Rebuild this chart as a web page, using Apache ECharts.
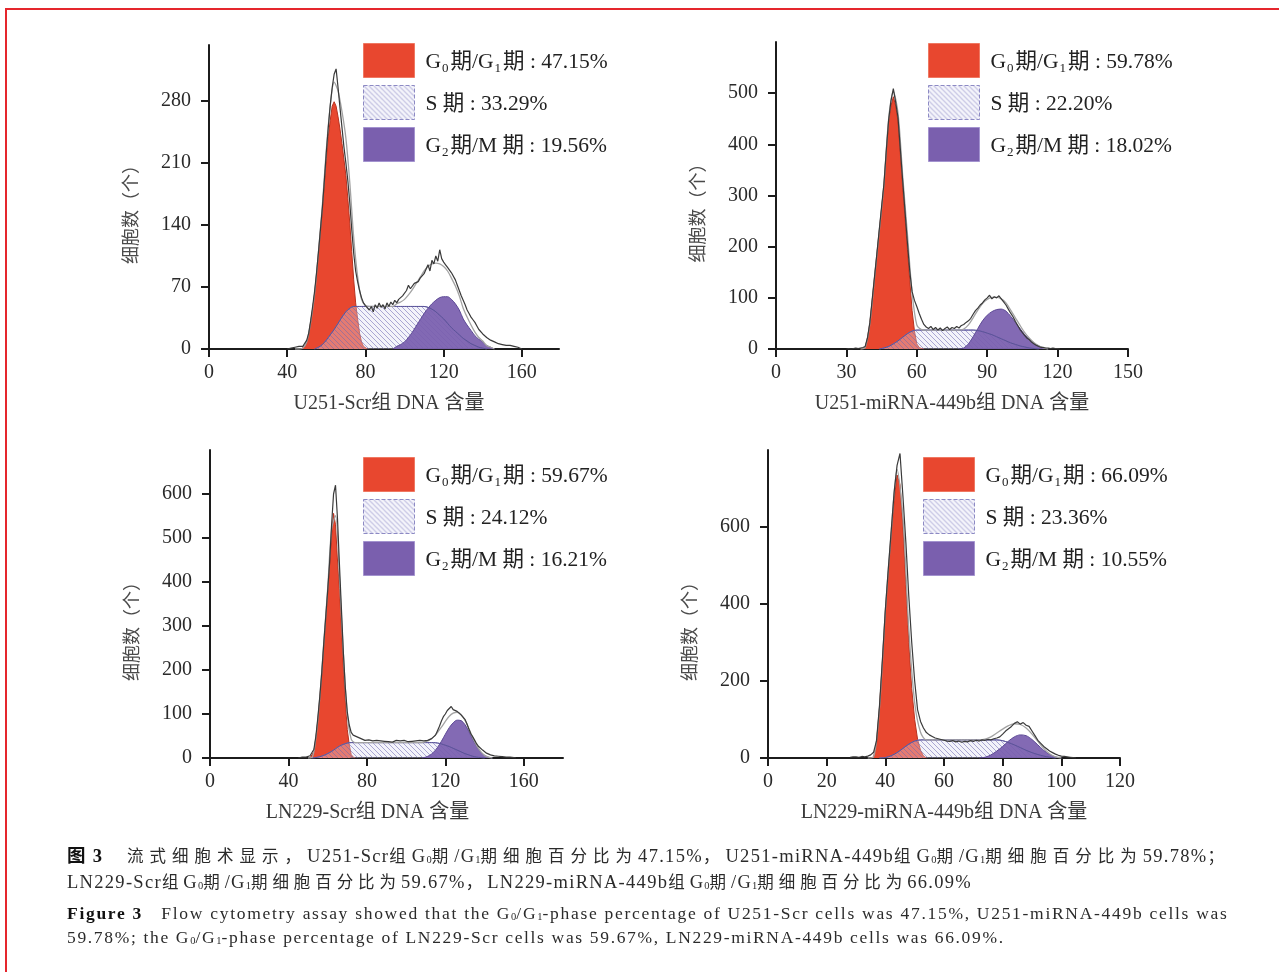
<!DOCTYPE html>
<html lang="zh">
<head>
<meta charset="utf-8">
<title>流式细胞术</title>
<script src="https://cdn.jsdelivr.net/npm/echarts@6.0.0/dist/echarts.min.js"></script>
<style>
html,body{margin:0;padding:0;background:#fff;width:1279px;height:972px;overflow:hidden;}
#chart{position:absolute;left:0;top:0;width:1279px;height:972px;}
#frame{position:absolute;left:5px;top:8px;width:1290px;height:980px;border-left:2px solid #e5262d;border-top:2px solid #e5262d;pointer-events:none;}
.cap{position:absolute;left:67px;white-space:nowrap;font-family:"Liberation Serif","Noto Sans CJK SC",serif;color:#2b2b2b;line-height:20px;font-size:17.5px;}
.cap.cn{letter-spacing:1.3px;font-size:18.5px;}
.cap .hz{font-size:16.5px;}
.cap sub{font-size:10.5px;vertical-align:-1px;line-height:0;letter-spacing:0;}
.cap b{color:#111;}
</style>
</head>
<body>
<div id="chart"></div>
<div id="frame"></div>
<div class="cap cn" data-w="1163" style="top:846px"><b><span class="hz0">图</span> 3</b>&nbsp;&nbsp;&nbsp;&nbsp;<span class="hz">流式细胞术显示，</span>U251-Scr<span class="hz">组</span>G<sub>0</sub><span class="hz">期</span>/G<sub>1</sub><span class="hz">期细胞百分比为</span>47.15%<span class="hz">，</span>U251-miRNA-449b<span class="hz">组</span>G<sub>0</sub><span class="hz">期</span>/G<sub>1</sub><span class="hz">期细胞百分比为</span>59.78%<span class="hz">；</span></div>
<div class="cap cn" data-w="905" style="top:872px">LN229-Scr<span class="hz">组</span>G<sub>0</sub><span class="hz">期</span>/G<sub>1</sub><span class="hz">期细胞百分比为</span>59.67%<span class="hz">，</span>LN229-miRNA-449b<span class="hz">组</span>G<sub>0</sub><span class="hz">期</span>/G<sub>1</sub><span class="hz">期细胞百分比为</span>66.09%</div>
<div class="cap en" data-w="1165" style="top:903px"><b>Figure 3</b>&nbsp;&nbsp; Flow cytometry assay showed that the G<sub>0</sub>/G<sub>1</sub>-phase percentage of U251-Scr cells was 47.15%, U251-miRNA-449b cells was</div>
<div class="cap en" data-w="941" style="top:927px">59.78%; the G<sub>0</sub>/G<sub>1</sub>-phase percentage of LN229-Scr cells was 59.67%, LN229-miRNA-449b cells was 66.09%.</div>
<script>
// ---------------- DATA ----------------
// Panel 1: U251-Scr
const u251scr_xTicks = [0, 40, 80, 120, 160];
const u251scr_yTicks = [0, 70, 140, 210, 280];
const u251scr_obs_x0 = 40;   // step 1
const u251scr_obs = [0,0,1,1,2,2,3,3,3,5,10,18,32,48,65,86,110,135,160,190,222,250,275,295,310,316,295,272,250,228,210,190,165,135,108,88,76,66,58,52,49,50,44,48,42,50,46,52,47,50,45,52,48,53,50,55,52,56,55,60,58,66,72,68,70,74,72,76,80,78,85,90,95,88,100,96,105,99,112,102,98,95,92,90,86,84,78,72,66,60,55,50,44,40,36,33,30,26,22,20,17,15,13,11,10,9,8,7,6,6,5,5,4,5,4,3,3,2,2,1,0];
const u251scr_fit_x0 = 44;   // step 2
const u251scr_fit = [0,0,1,8,30,62,110,163,225,274,301,291,268,238,188,126,82,56,49,48,48,48,48,48,48,48,51,53,56,61,67,74,81,88,93,96,97,96,93,88,80,71,60,46,36,27,19,13,9,4,2,0];
const u251scr_g1_x0 = 47;    // step 1
const u251scr_g1 = [0,1,3,8,16,30,45,62,84,108,133,158,188,215,240,258,274,279,274,262,248,232,214,196,170,142,110,78,52,34,18,8,3,1,0];
const u251scr_s_x0 = 54;     // step 2
const u251scr_s = [0,2,5,10,16,22,29,36,42,46,48,48,48,48,48,48,48,48,48,48,48,48,48,48,48,48,48,48,48,47,45,42,38,34,29,24,20,16,12,9,6,4,2,1,0];
const u251scr_g2_x0 = 94;    // step 2
const u251scr_g2 = [0,3,5,8,13,19,26,33,40,46,51,55,58,59,59,56,51,44,34,27,21,15,11,8,4,2,0];
const u251scr_legend = ['{t|G}{s|0}{t|期/G}{s|1}{t|期 : 47.15%}', '{t|S 期 : 33.29%}', '{t|G}{s|2}{t|期/M 期 : 19.56%}'];

// Panel 2: U251-miRNA-449b
const u251mir_xTicks = [0, 30, 60, 90, 120, 150];
const u251mir_yTicks = [0, 100, 200, 300, 400, 500];
const u251mir_obs_x0 = 30;
const u251mir_obs = [0,1,0,1,2,1,2,3,5,22,52,97,142,187,233,278,323,388,448,485,509,482,452,390,328,268,208,152,112,95,83,70,58,48,43,40,44,38,42,37,41,36,40,43,38,42,40,44,41,46,48,52,55,60,68,75,80,86,90,96,100,105,98,102,100,104,98,92,86,78,70,63,54,46,38,32,26,21,18,13,10,7,5,3,3,2,2,1,2,1,1,0];
const u251mir_fit_x0 = 36;
const u251mir_fit = [0,3,50,140,230,322,450,503,461,338,225,110,47,38,37,37,37,37,37,37,37,37,39,47,61,76,89,97,101,101,98,90,76,61,46,32,21,12,6,2,0];
const u251mir_g1_x0 = 36;
const u251mir_g1 = [0,1,3,22,50,95,140,185,230,275,320,385,445,475,493,475,445,380,315,255,195,135,75,35,10,3,1,0];
const u251mir_s_x0 = 44;
const u251mir_s = [0,2,5,10,16,23,30,35,37,37,37,37,37,37,37,37,37,37,37,37,37,36,34,31,28,24,20,16,12,9,6,4,2,1,0];
const u251mir_g2_x0 = 78;
const u251mir_g2 = [0,2,10,24,40,55,66,73,77,78,74,64,52,40,28,19,11,6,2,0];
const u251mir_legend = ['{t|G}{s|0}{t|期/G}{s|1}{t|期 : 59.78%}', '{t|S 期 : 22.20%}', '{t|G}{s|2}{t|期/M 期 : 18.02%}'];

// Panel 3: LN229-Scr
const ln229scr_xTicks = [0, 40, 80, 120, 160];
const ln229scr_yTicks = [0, 100, 200, 300, 400, 500, 600];
const ln229scr_obs_x0 = 45;
const ln229scr_obs = [0,1,2,3,2,4,5,8,20,50,92,140,195,260,320,380,445,530,600,620,545,440,340,240,160,105,75,58,52,50,48,47,44,42,40,38,41,37,39,36,40,37,39,36,38,40,37,39,36,38,40,37,39,36,40,38,37,40,38,36,39,37,40,38,39,41,40,42,44,46,52,62,72,84,94,100,108,112,117,110,114,106,104,98,100,88,78,66,55,48,40,32,26,22,18,14,11,9,7,6,5,4,4,3,3,2,2,1,2,1,1,0];
const ln229scr_fit_x0 = 50;
const ln229scr_fit = [0,1,46,138,261,385,520,551,412,238,99,43,35,35,35,35,35,35,35,35,35,35,35,35,35,35,35,35,35,35,37,41,48,58,70,83,95,102,104,99,86,67,46,28,15,6,2,0];
const ln229scr_g1_x0 = 51;
const ln229scr_g1 = [0,1,15,45,85,135,190,255,315,375,440,505,556,530,450,385,300,207,130,65,30,8,2,0];
const ln229scr_s_x0 = 52;
const ln229scr_s = [0,1,3,6,10,15,21,27,31,34,35,35,35,35,35,35,35,35,35,35,35,35,35,35,35,35,35,35,35,35,35,35,34,32,29,26,22,18,14,10,7,4,2,1,0];
const ln229scr_g2_x0 = 108;
const ln229scr_g2 = [0,2,6,13,24,38,54,69,80,86,85,76,60,42,26,14,6,2,0];
const ln229scr_legend = ['{t|G}{s|0}{t|期/G}{s|1}{t|期 : 59.67%}', '{t|S 期 : 24.12%}', '{t|G}{s|2}{t|期/M 期 : 16.21%}'];

// Panel 4: LN229-miRNA-449b
const ln229mir_xTicks = [0, 20, 40, 60, 80, 100, 120];
const ln229mir_yTicks = [0, 200, 400, 600];
const ln229mir_obs_x0 = 28;
const ln229mir_obs = [2,3,3,2,4,3,5,8,15,45,135,255,385,490,590,690,760,791,680,560,420,300,200,125,95,78,66,60,56,52,50,48,46,44,43,45,42,44,41,43,42,45,43,46,44,47,46,48,47,50,52,55,62,70,76,82,90,94,88,92,85,82,70,58,46,38,30,24,18,14,10,7,5,4,3,2,1,0];
const ln229mir_fit_x0 = 34;
const ln229mir_fit = [0,3,130,381,586,749,625,336,144,67,47,47,47,47,47,47,47,47,47,47,49,55,65,75,84,89,87,78,62,43,25,11,3,0];
const ln229mir_g1_x0 = 35;
const ln229mir_g1 = [0,3,40,130,250,380,480,580,670,735,710,600,450,300,180,100,48,20,5,0];
const ln229mir_s_x0 = 38;
const ln229mir_s = [0,1,6,14,25,36,44,47,47,47,47,47,47,47,47,47,47,47,47,47,47,45,40,34,27,20,14,9,5,2,0];
const ln229mir_g2_x0 = 72;
const ln229mir_g2 = [0,2,8,18,30,44,55,60,58,48,34,20,9,3,0];
const ln229mir_legend = ['{t|G}{s|0}{t|期/G}{s|1}{t|期 : 66.09%}', '{t|S 期 : 23.36%}', '{t|G}{s|2}{t|期/M 期 : 10.55%}'];

const xNames = ['U251-Scr组 DNA 含量', 'U251-miRNA-449b组 DNA 含量', 'LN229-Scr组 DNA 含量', 'LN229-miRNA-449b组 DNA 含量'];
const yName = '细胞数（个）';

// ---------------- BUILD ----------------
const pts = (x0, step, ys) => ys.map((y, i) => [x0 + i * step, y]);
const FONT = '"Liberation Serif","Noto Sans CJK SC",serif';
const RED = '#e8472f', PURPLE = '#7a5fae';

function hatch() {
  const c = document.createElement('canvas');
  c.width = 5; c.height = 5;
  const g = c.getContext('2d');
  g.fillStyle = 'rgba(222,220,240,0.35)';
  g.fillRect(0, 0, 5, 5);
  g.strokeStyle = 'rgba(110,104,178,0.55)';
  g.lineWidth = 1;
  g.beginPath();
  g.moveTo(-1, -1); g.lineTo(6, 6);
  g.moveTo(-4, 1); g.lineTo(4, 9);
  g.moveTo(1, -4); g.lineTo(9, 4);
  g.stroke();
  return c;
}
const HATCH = hatch();

const panels = [
  {grid: {left: 209, top: 45, width: 350, height: 304}, xMax: 179, yMax: 343, xTicks: u251scr_xTicks, yTicks: u251scr_yTicks,
   xPad: [0, 0, 0, 10], yPad: [0, 26, 0, 0], legendPos: [363, 43], legend: u251scr_legend,
   obs: pts(u251scr_obs_x0, 1, u251scr_obs), fit: pts(u251scr_fit_x0, 2, u251scr_fit), g1: pts(u251scr_g1_x0, 1, u251scr_g1),
   s: pts(u251scr_s_x0, 2, u251scr_s), g2: pts(u251scr_g2_x0, 2, u251scr_g2)},
  {grid: {left: 776, top: 42, width: 352, height: 307}, xMax: 150, yMax: 600, xTicks: u251mir_xTicks, yTicks: u251mir_yTicks,
   xPad: [0, 0, 0, 0], yPad: [0, 26, 0, 0], legendPos: [928, 43], legend: u251mir_legend,
   obs: pts(u251mir_obs_x0, 1, u251mir_obs), fit: pts(u251mir_fit_x0, 2, u251mir_fit), g1: pts(u251mir_g1_x0, 1, u251mir_g1),
   s: pts(u251mir_s_x0, 2, u251mir_s), g2: pts(u251mir_g2_x0, 2, u251mir_g2)},
  {grid: {left: 210, top: 450, width: 353, height: 308}, xMax: 180, yMax: 700, xTicks: ln229scr_xTicks, yTicks: ln229scr_yTicks,
   xPad: [0, 38, 0, 0], yPad: [0, 46, 0, 0], legendPos: [363, 457], legend: ln229scr_legend,
   obs: pts(ln229scr_obs_x0, 1, ln229scr_obs), fit: pts(ln229scr_fit_x0, 2, ln229scr_fit), g1: pts(ln229scr_g1_x0, 1, ln229scr_g1),
   s: pts(ln229scr_s_x0, 2, ln229scr_s), g2: pts(ln229scr_g2_x0, 2, ln229scr_g2)},
  {grid: {left: 768, top: 450, width: 352, height: 308}, xMax: 120, yMax: 800, xTicks: ln229mir_xTicks, yTicks: ln229mir_yTicks,
   xPad: [0, 0, 0, 0], yPad: [0, 46, 0, 0], legendPos: [923, 457], legend: ln229mir_legend,
   obs: pts(ln229mir_obs_x0, 1, ln229mir_obs), fit: pts(ln229mir_fit_x0, 2, ln229mir_fit), g1: pts(ln229mir_g1_x0, 1, ln229mir_g1),
   s: pts(ln229mir_s_x0, 2, ln229mir_s), g2: pts(ln229mir_g2_x0, 2, ln229mir_g2)}
];

const axisCommon = {
  axisLine: {show: true, onZero: false, lineStyle: {color: '#1c1c1c', width: 2}},
  splitLine: {show: false},
};

const option = {
  animation: false,
  backgroundColor: 'transparent',
  grid: panels.map(p => Object.assign({containLabel: false}, p.grid)),
  xAxis: panels.map((p, k) => Object.assign({}, axisCommon, {
    type: 'value', gridIndex: k, min: 0, max: p.xMax,
    axisTick: {show: true, length: 8, lineStyle: {color: '#1c1c1c', width: 2}, customValues: p.xTicks},
    axisLabel: {customValues: p.xTicks, fontSize: 20, color: '#2a2a2a', fontFamily: FONT, margin: 14},
    name: xNames[k], nameLocation: 'middle', nameGap: 45,
    nameTextStyle: {fontSize: 20, color: '#3a3a3a', fontFamily: FONT, padding: p.xPad}
  })),
  yAxis: panels.map((p, k) => Object.assign({}, axisCommon, {
    type: 'value', gridIndex: k, min: 0, max: p.yMax,
    axisTick: {show: true, length: 8, lineStyle: {color: '#1c1c1c', width: 2}, customValues: p.yTicks},
    axisLabel: {customValues: p.yTicks, fontSize: 20, color: '#2a2a2a', fontFamily: FONT, margin: 18},
    name: yName, nameLocation: 'middle', nameGap: 68,
    nameTextStyle: {fontSize: 18, color: '#4a4a4a', fontFamily: FONT, padding: p.yPad}
  })),
  legend: panels.map((p, k) => ({
    left: p.legendPos[0], top: p.legendPos[1], orient: 'vertical', icon: 'rect',
    itemWidth: 51, itemHeight: 34, itemGap: 7, padding: 0, selectedMode: false,
    data: [
      {name: 'g1_' + k, itemStyle: {color: RED, borderColor: '#ef7862', borderWidth: 1}},
      {name: 's_' + k, itemStyle: {color: {image: HATCH, repeat: 'repeat'}, borderColor: '#8d8ac4', borderWidth: 1, borderType: 'dashed'}},
      {name: 'g2_' + k, itemStyle: {color: PURPLE, borderColor: '#a393cf', borderWidth: 1}}
    ],
    formatter: name => p.legend[['g1_', 's_', 'g2_'].indexOf(name.replace(/\d+$/, ''))],
    textStyle: {
      fontFamily: FONT, fontSize: 21, color: '#222', padding: [3, 0, 0, 6],
      rich: {
        t: {fontFamily: FONT, fontSize: 21.5, lineHeight: 26, color: '#222'},
        s: {fontFamily: FONT, fontSize: 13, lineHeight: 16, verticalAlign: 'bottom', color: '#222', padding: [0, 2, 0, 1]}
      }
    }
  })),
  series: []
};

panels.forEach((p, k) => {
  const base = {type: 'line', xAxisIndex: k, yAxisIndex: k, symbol: 'none', silent: true};
  option.series.push(
    Object.assign({}, base, {name: 'g1_' + k, data: p.g1, z: 2,
      lineStyle: {color: '#b8321f', width: 1}, itemStyle: {color: RED}, areaStyle: {color: RED, opacity: 1}}),
    Object.assign({}, base, {name: 's_' + k, data: p.s, z: 3, smooth: 0.3,
      lineStyle: {color: '#7d78b8', width: 1}, itemStyle: {color: '#b9b6dd'},
      areaStyle: {color: {image: HATCH, repeat: 'repeat'}, opacity: 1}}),
    Object.assign({}, base, {name: 'g2_' + k, data: p.g2, z: 4, smooth: 0.3,
      lineStyle: {color: '#5d4a95', width: 1}, itemStyle: {color: PURPLE}, areaStyle: {color: PURPLE, opacity: 0.93}}),
    Object.assign({}, base, {name: 'sline_' + k, data: p.s, z: 5, smooth: 0.3,
      lineStyle: {color: '#5a5498', width: 1}}),
    Object.assign({}, base, {name: 'fit_' + k, data: p.fit, z: 6, smooth: 0.3,
      lineStyle: {color: '#a3a3a3', width: 1.3}}),
    Object.assign({}, base, {name: 'obs_' + k, data: p.obs, z: 7,
      lineStyle: {color: '#3a3a3a', width: 1.2}})
  );
});

const chart = echarts.init(document.getElementById('chart'), null, {renderer: 'canvas'});
chart.setOption(option);

// caption layout: stretch each caption line to the width it has in the reference
document.querySelectorAll('.cap').forEach(el => {
  const target = +el.dataset.w;
  const hz = el.querySelectorAll('.hz');
  if (hz.length) {
    hz.forEach(s => s.style.letterSpacing = '0px');
    const natural = el.getBoundingClientRect().width;
    let n = 0; hz.forEach(s => n += s.textContent.length);
    const ls = (target - natural) / n;
    hz.forEach(s => s.style.letterSpacing = ls.toFixed(3) + 'px');
  } else {
    el.style.letterSpacing = '0px';
    const natural = el.getBoundingClientRect().width;
    el.style.letterSpacing = ((target - natural) / el.textContent.length).toFixed(3) + 'px';
  }
});
</script>
</body>
</html>
